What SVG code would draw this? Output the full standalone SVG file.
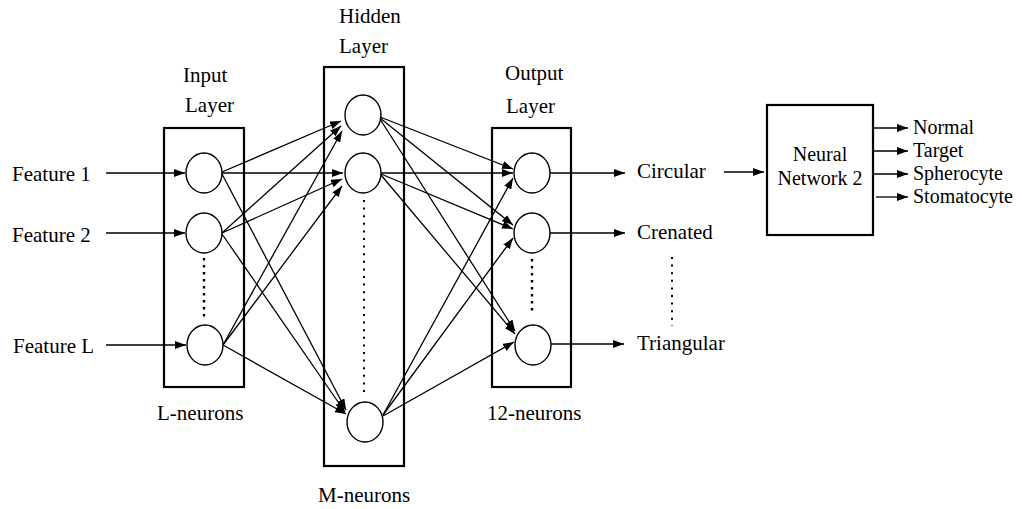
<svg xmlns="http://www.w3.org/2000/svg" width="1022" height="509" viewBox="0 0 1022 509">
  <defs>
    <marker id="arrow" markerUnits="userSpaceOnUse" markerWidth="12" markerHeight="8" refX="11" refY="4" orient="auto">
      <path d="M0,0 L11,4 L0,8 z" fill="#000"/>
    </marker>
    <style>
      text { font-family: "Liberation Serif", "Times New Roman", Times, serif; font-size: 21px; fill: #000; }
      .small { font-size: 20px; }
      .box { fill: none; stroke: #000; stroke-width: 2.2; }
      .neuron { fill: #fff; stroke: #000; stroke-width: 1.4; }
      .link { fill: none; stroke: #000; stroke-width: 1.3; marker-end: url(#arrow); }
      .dots { fill: none; stroke: #000; stroke-width: 2.4; stroke-dasharray: 2.4 4.6; }
      .dots-thin { fill: none; stroke: #000; stroke-width: 2; stroke-dasharray: 2 5.6; }
    </style>
  </defs>

  <rect width="1022" height="509" fill="#fff"/>

  <g font-family="'Liberation Serif', 'Times New Roman', Times, serif">
  <!-- input layer -->
  <g id="input-layer">
    <rect class="box" x="164" y="128" width="80" height="259"/>
    <text x="183" y="82">Input</text>
    <text x="185" y="112">Layer</text>
    <text x="157" y="420">L-neurons</text>
    <line class="dots" x1="204" y1="258" x2="204" y2="320"/>
  </g>
  <g id="input-1"><ellipse class="neuron" cx="204" cy="173" rx="18" ry="20"/></g>
  <g id="input-2"><ellipse class="neuron" cx="204" cy="233" rx="18" ry="20"/></g>
  <g id="input-L"><ellipse class="neuron" cx="205" cy="345" rx="18" ry="20"/></g>

  <!-- hidden layer -->
  <g id="hidden-layer">
    <rect class="box" x="324" y="67" width="80" height="399"/>
    <text x="339" y="23">Hidden</text>
    <text x="339" y="53">Layer</text>
    <text x="318" y="502">M-neurons</text>
    <line class="dots-thin" x1="364" y1="200" x2="364" y2="396"/>
  </g>
  <g id="hidden-1"><ellipse class="neuron" cx="363" cy="115" rx="18" ry="20"/></g>
  <g id="hidden-2"><ellipse class="neuron" cx="363" cy="173" rx="18" ry="20"/></g>
  <g id="hidden-M"><ellipse class="neuron" cx="365" cy="422" rx="18" ry="20"/></g>

  <!-- output layer -->
  <g id="output-layer">
    <rect class="box" x="492" y="128" width="79" height="259"/>
    <text x="505" y="80">Output</text>
    <text x="506" y="113">Layer</text>
    <text x="487" y="420">12-neurons</text>
    <line class="dots" x1="532" y1="259" x2="532" y2="314"/>
  </g>
  <g id="output-1"><ellipse class="neuron" cx="532" cy="173" rx="18" ry="20"/></g>
  <g id="output-2"><ellipse class="neuron" cx="532" cy="233" rx="18" ry="20"/></g>
  <g id="output-12"><ellipse class="neuron" cx="533" cy="345" rx="18" ry="20"/></g>

  <!-- feature labels -->
  <g id="features">
    <text x="12" y="181">Feature 1</text>
    <text x="12" y="242">Feature 2</text>
    <text x="13" y="353">Feature L</text>
  </g>

  <!-- class labels -->
  <g id="classes">
    <text x="637" y="178">Circular</text>
    <text x="637" y="239">Crenated</text>
    <text x="637" y="350">Triangular</text>
    <line class="dots-thin" x1="672" y1="257" x2="672" y2="326"/>
  </g>

  <!-- second network -->
  <g id="neural-network-2">
    <rect class="box" x="767" y="105" width="106" height="130"/>
    <text x="820" y="161" text-anchor="middle" class="small">Neural</text>
    <text x="820" y="185" text-anchor="middle" class="small">Network 2</text>
  </g>
  <g id="shapes">
    <text x="913" y="134" class="small">Normal</text>
    <text x="913" y="157" class="small">Target</text>
    <text x="913" y="180" class="small">Spherocyte</text>
    <text x="913" y="203" class="small">Stomatocyte</text>
  </g>
  </g>

  <!-- connectors -->
  <g id="connectors">
    <!-- features into input neurons -->
    <line class="link" x1="106" y1="173" x2="185" y2="173"/>
    <line class="link" x1="106" y1="233" x2="185" y2="233"/>
    <line class="link" x1="106" y1="345" x2="186" y2="345"/>

    <!-- input to hidden -->
    <line class="link" x1="222" y1="172" x2="341" y2="121"/>
    <line class="link" x1="222" y1="173" x2="343" y2="173"/>
    <line class="link" x1="222" y1="174" x2="346" y2="410"/>
    <line class="link" x1="222" y1="233" x2="341" y2="126"/>
    <line class="link" x1="222" y1="233" x2="342" y2="179"/>
    <line class="link" x1="222" y1="234" x2="345" y2="412"/>
    <line class="link" x1="223" y1="345" x2="342" y2="131"/>
    <line class="link" x1="223" y1="345" x2="342" y2="186"/>
    <line class="link" x1="223" y1="345" x2="346" y2="414"/>

    <!-- hidden to output -->
    <line class="link" x1="380" y1="117" x2="513" y2="169"/>
    <line class="link" x1="380" y1="118" x2="513" y2="225"/>
    <line class="link" x1="380" y1="119" x2="515" y2="331"/>
    <line class="link" x1="381" y1="173" x2="513" y2="173"/>
    <line class="link" x1="381" y1="174" x2="513" y2="229"/>
    <line class="link" x1="381" y1="175" x2="515" y2="334"/>
    <line class="link" x1="383" y1="415" x2="513" y2="178"/>
    <line class="link" x1="383" y1="415" x2="513" y2="238"/>
    <line class="link" x1="383" y1="416" x2="514" y2="342"/>

    <!-- output neurons to classes -->
    <line class="link" x1="550" y1="173" x2="625" y2="173"/>
    <line class="link" x1="550" y1="233" x2="625" y2="233"/>
    <line class="link" x1="551" y1="344" x2="624" y2="344"/>

    <!-- circular cells into the second network -->
    <line class="link" x1="724" y1="172" x2="764" y2="172"/>

    <!-- second network outputs -->
    <line class="link" x1="873" y1="128" x2="908" y2="128"/>
    <line class="link" x1="873" y1="151" x2="908" y2="151"/>
    <line class="link" x1="873" y1="174" x2="908" y2="174"/>
    <line class="link" x1="876" y1="197" x2="908" y2="197"/>
  </g>
</svg>
